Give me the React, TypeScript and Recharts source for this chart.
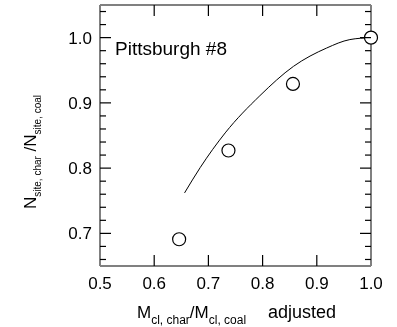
import { ComposedChart, Line, XAxis, YAxis } from 'recharts'

const curveX = [0.656, 0.685, 0.731, 0.795, 0.857, 0.918, 0.961, 1.0]
const curveY = [0.762, 0.801, 0.854, 0.911, 0.956, 0.984, 0.997, 1.0]

const pointX = [0.646, 0.737, 0.856, 1.0]
const pointY = [0.691, 0.827, 0.929, 1.0]

const xTicks = [0.5, 0.6, 0.7, 0.8, 0.9, 1.0]
const yTicks = [0.66, 0.68, 0.7, 0.72, 0.74, 0.76, 0.78, 0.8, 0.82, 0.84, 0.86, 0.88, 0.9, 0.92, 0.94, 0.96, 0.98, 1.0, 1.02, 1.04]
const yLabels = [0.7, 0.8, 0.9, 1.0]

const curve = curveX.map((x, i) => ({ x, y: curveY[i] }))
const points = pointX.map((x, i) => ({ x, y: pointY[i] }))

const W = 397
const H = 327
const M = { top: 4, right: 25, bottom: 31, left: 40 }
const Y_W = 60
const X_H = 30
// plot size, used to mirror ticks on the right and top edges
const PW = W - M.left - M.right - Y_W - 1
const PH = H - M.top - M.bottom - X_H - 1

const FONT = '"Liberation Sans", Arial, sans-serif'
const AXIS = '#808080'

const isMajor = (v: number) => yLabels.some((m) => Math.abs(m - v) < 1e-6)

const LeftTick = (props: any) => {
  const { x, y, payload } = props
  const len = isMajor(payload.value) ? 11 : 6
  return (
    <g>
      <line x1={x} x2={x + len} y1={y} y2={y} stroke="#000" strokeWidth={1.2} />
      <line x1={x + PW - len} x2={x + PW} y1={y} y2={y} stroke="#000" strokeWidth={1.2} />
      {isMajor(payload.value) && (
        <text x={x - 8} y={y + 6} textAnchor="end" fontSize={17} fontFamily={FONT} fill="#000">
          {payload.value.toFixed(1)}
        </text>
      )}
    </g>
  )
}

const BottomTick = (props: any) => {
  const { x, y, payload } = props
  const inner = payload.value > 0.55 && payload.value < 0.95
  return (
    <g>
      {inner && <line x1={x} x2={x} y1={y} y2={y - 11} stroke="#000" strokeWidth={1.2} />}
      {inner && <line x1={x} x2={x} y1={y - PH} y2={y - PH + 11} stroke="#000" strokeWidth={1.2} />}
      <text x={x} y={y + 23} textAnchor="middle" fontSize={17} fontFamily={FONT} fill="#000">
        {payload.value.toFixed(1)}
      </text>
    </g>
  )
}

const Labels = () => (
  <g fontFamily={FONT} fill="#000">
    <text x={115} y={55} fontSize={19}>Pittsburgh #8</text>
    <text x={137} y={318} fontSize={17}>
      M
      <tspan fontSize={12} dy={6}>cl, char</tspan>
      <tspan fontSize={17} dy={-6}>/M</tspan>
      <tspan fontSize={12} dy={6}>cl, coal</tspan>
    </text>
    <text x={268} y={318} fontSize={18}>adjusted</text>
    <text x={0} y={0} fontSize={17} transform="translate(36,209) rotate(-90)">
      N
      <tspan fontSize={10} dy={5}>site, char</tspan>
      <tspan fontSize={17} dy={-5}> /N</tspan>
      <tspan fontSize={10} dy={5}>site, coal</tspan>
    </text>
  </g>
)

export default function App() {
  return (
    <div style={{ position: 'fixed', left: 0, top: 0 }}>
      <ComposedChart width={W} height={H} data={curve} margin={M}>
        <XAxis
          xAxisId="bottom"
          dataKey="x"
          type="number"
          domain={[0.5, 1.0]}
          ticks={xTicks}
          interval={0}
          height={X_H}
          tickSize={0}
          tickMargin={0}
          tickLine={false}
          axisLine={{ stroke: AXIS, strokeWidth: 2 }}
          tick={<BottomTick />}
          label={<Labels />}
        />
        <XAxis
          xAxisId="top"
          orientation="top"
          dataKey="x"
          type="number"
          domain={[0.5, 1.0]}
          ticks={xTicks}
          interval={0}
          height={1}
          tickSize={0}
          tickMargin={0}
          tickLine={false}
          axisLine={{ stroke: AXIS, strokeWidth: 2 }}
          tick={false}
        />
        <YAxis
          yAxisId="left"
          type="number"
          domain={[0.65, 1.05]}
          ticks={yTicks}
          interval={0}
          width={Y_W}
          tickSize={0}
          tickMargin={0}
          tickLine={false}
          axisLine={{ stroke: AXIS, strokeWidth: 2 }}
          tick={<LeftTick />}
        />
        <YAxis
          yAxisId="right"
          orientation="right"
          type="number"
          domain={[0.65, 1.05]}
          ticks={yTicks}
          width={1}
          tickSize={0}
          tickMargin={0}
          tickLine={false}
          axisLine={{ stroke: AXIS, strokeWidth: 2 }}
          tick={false}
        />
        <Line
          xAxisId="bottom"
          yAxisId="left"
          dataKey="y"
          type="monotone"
          stroke="#000"
          strokeWidth={1}
          dot={false}
          isAnimationActive={false}
        />
        <Line
          xAxisId="bottom"
          yAxisId="left"
          data={points}
          dataKey="y"
          stroke="none"
          dot={{ r: 6.5, fill: '#fff', stroke: '#000', strokeWidth: 1.2 }}
          isAnimationActive={false}
        />
      </ComposedChart>
    </div>
  )
}
